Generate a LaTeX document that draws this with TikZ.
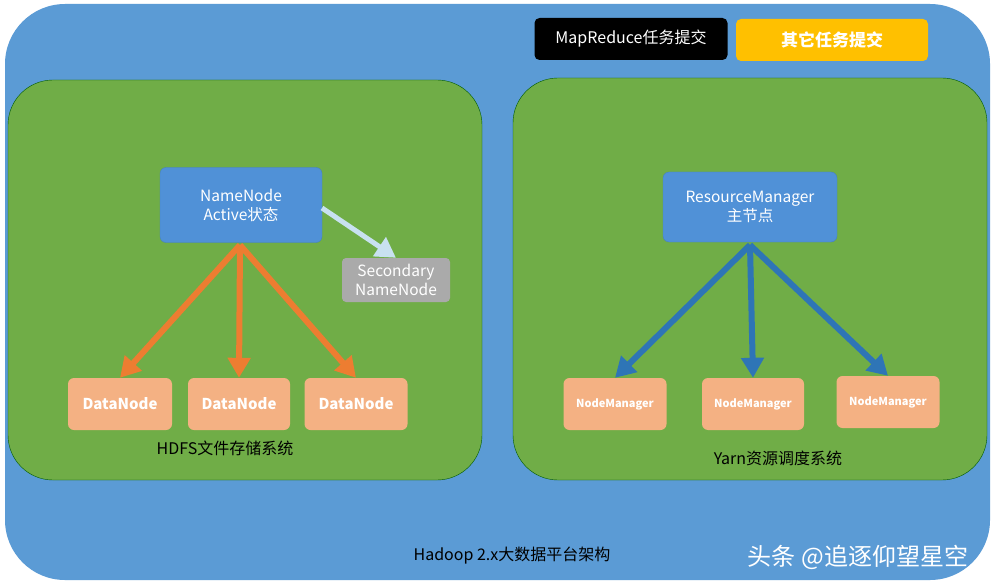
\documentclass[tikz,border=0pt]{standalone}
\usepackage{fontspec}
\setmainfont{Noto Sans CJK SC}
\usetikzlibrary{arrows.meta}
\definecolor{g}{RGB}{112,173,71}
\definecolor{bg}{RGB}{91,155,213}
\definecolor{nb}{RGB}{80,145,215}
\definecolor{nbd}{RGB}{70,130,190}
\definecolor{dnc}{RGB}{244,177,131}
\definecolor{oa}{RGB}{237,125,49}
\definecolor{ba}{RGB}{46,117,182}
\definecolor{la}{RGB}{200,225,240}
\definecolor{gy}{RGB}{170,170,170}
\definecolor{yo}{RGB}{255,192,0}
\begin{document}
\begin{tikzpicture}[x=1pt,y=-1pt,
  box/.style={rounded corners=6pt,inner sep=0pt,align=center,font=\fontsize{15.5}{19}\selectfont,text=white},
  dnbox/.style={box,fill=dnc,minimum height=52pt,font=\fontsize{15}{18}\selectfont\bfseries},
  nmbox/.style={dnbox,font=\fontsize{11}{13}\selectfont\bfseries},
  lbl/.style={font=\fontsize{16}{19}\selectfont},
  arr/.style={line width=6pt,-{Triangle[length=20pt,width=22pt]}}]
\useasboundingbox (0,0) rectangle (992,588);
\fill[white] (0,0) rectangle (992,588);
\fill[bg, rounded corners=60pt] (5,4) rectangle (990,580);
\fill[g,draw=green!35!black,rounded corners=45pt] (8,80) rectangle (482,480);
\fill[g,draw=green!35!black,rounded corners=45pt] (513,78) rectangle (987,480);
\node[box,fill=nb,draw=nbd,minimum width=162pt,minimum height=75pt] (nn) at (241,205) {NameNode\\Active状态};
\node[box,fill=gy,minimum width=108pt,minimum height=44pt,rounded corners=4pt] (sn) at (396,280) {Secondary\\NameNode};
\node[dnbox,minimum width=104pt] (d1) at (120,404) {DataNode};
\node[dnbox,minimum width=102pt] (d2) at (239,404) {DataNode};
\node[dnbox,minimum width=103pt] (d3) at (356,404) {DataNode};
\node[lbl] (hl) at (225,448) {HDFS文件存储系统};
\node[box,fill=nb,draw=nbd,minimum width=174pt,minimum height=70pt] (rm) at (750,207) {ResourceManager\\主节点};
\node[nmbox,minimum width=103pt] (n1) at (615,404) {NodeManager};
\node[nmbox,minimum width=102pt] (n2) at (753,404) {NodeManager};
\node[nmbox,minimum width=103pt] (n3) at (888,402) {NodeManager};
\node[lbl] (yl) at (778,458) {Yarn资源调度系统};
\node[box,fill=black,minimum width=193pt,minimum height=42pt,rounded corners=5pt,font=\fontsize{16}{19}\selectfont] (mr) at (631,39) {MapReduce任务提交};
\node[box,fill=yo,minimum width=192pt,minimum height=42pt,rounded corners=5pt,font=\fontsize{17}{19}\selectfont\bfseries] (ot) at (832,40) {其它任务提交};
\node[lbl] (tt) at (512,556) {Hadoop 2.x大数据平台架构};
\node[font=\fontsize{24}{28}\selectfont,text=white] (wm) at (858,557) {头条 @追逐仰望星空};
\coordinate (ns) at (240,245);
\coordinate (rs) at (750,245);
\coordinate (ne) at (322,208);
\draw[arr,oa] (ns) -- (d1.north);
\draw[arr,oa] (ns) -- (d2.north);
\draw[arr,oa] (ns) -- (d3.north);
\draw[arr,ba] (rs) -- (n1.north);
\draw[arr,ba] (rs) -- (n2.north);
\draw[arr,ba] (rs) -- (n3.north);
\draw[arr,line width=5pt,la] (ne) -- (sn.north);
\end{tikzpicture}
\end{document}
